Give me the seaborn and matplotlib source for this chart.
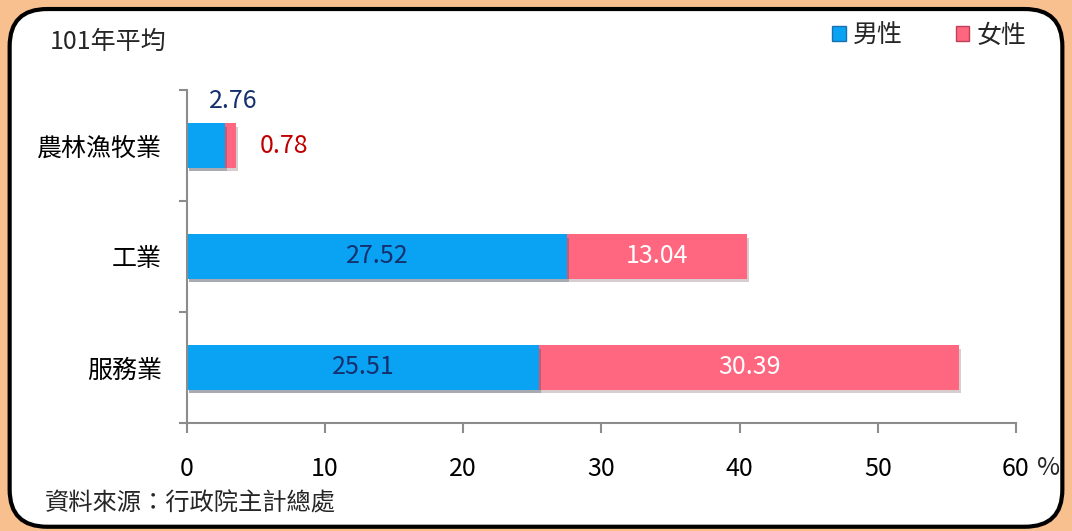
import matplotlib
matplotlib.use("Agg")
import matplotlib.pyplot as plt
import matplotlib.patheffects as pe
from matplotlib.patches import FancyBboxPatch, Patch
import seaborn as sns
import pandas as pd

# ----------------------------
# Data (101年平均, %)
# ----------------------------
categories = ['農林漁牧業', '工業', '服務業']
male = [2.76, 27.52, 25.51]
female = [0.78, 13.04, 30.39]
x_ticks = [0, 10, 20, 30, 40, 50, 60]

blue = '#0AA2F2'
pink = '#FF6680'
navy = '#14306E'
red = '#C00000'

df = pd.DataFrame({'cat': categories, 'male': male, 'female': female})
df['total'] = df['male'] + df['female']

sns.set_style("white")
plt.rcParams['font.family'] = ['Noto Sans CJK TC', 'DejaVu Sans']

fig = plt.figure(figsize=(10.72, 5.31), dpi=100)
fig.patch.set_facecolor('#F9C08F')

# white rounded panel
panel = FancyBboxPatch((0.009, 0.008), 0.982, 0.975, transform=fig.transFigure,
                       boxstyle="round,pad=0,rounding_size=0.035", mutation_aspect=2.0,
                       facecolor='white', edgecolor='black', linewidth=3, zorder=0)
fig.patches.append(panel)

ax = fig.add_axes([0.1744, 0.2034, 0.7733, 0.6271])
ax.set_facecolor('none')
ax.set_zorder(2)

shadow = [pe.SimplePatchShadow(offset=(1.5, -2.5), alpha=0.22), pe.Normal()]

# stacked bars: total (pink) first, then male (blue) on top
sns.barplot(data=df, x='total', y='cat', color=pink, width=0.4, saturation=1, ax=ax)
sns.barplot(data=df, x='male', y='cat', color=blue, width=0.4, saturation=1, ax=ax)
for p in ax.patches:
    p.set_path_effects(shadow)
    p.set_edgecolor('none')

fs = 18

# value labels
for i, r in df.iterrows():
    if r['total'] > 10:
        ax.text(r['male'] / 2, i, f"{r['male']:.2f}", ha='center', va='center',
                fontsize=fs, color=navy)
        ax.text(r['male'] + r['female'] / 2, i, f"{r['female']:.2f}", ha='center',
                va='center', fontsize=fs, color='white')
    else:
        ax.annotate(f"{r['male']:.2f}", xy=(r['total'], i), xytext=(-2, 32),
                    textcoords='offset points', ha='center', va='center',
                    fontsize=fs, color=navy)
        ax.annotate(f"{r['female']:.2f}", xy=(r['total'], i), xytext=(35, 0),
                    textcoords='offset points', ha='center', va='center',
                    fontsize=fs, color=red)

ax.set_xlim(0, 60)
ax.set_ylim(2.5, -0.5)
ax.set_xticks(x_ticks)
ax.set_xticklabels([str(t) for t in x_ticks])
ax.set_yticks([-0.5, 0.5, 1.5, 2.5], minor=True)
ax.set_xlabel('')
ax.set_ylabel('')

for s in ['top', 'right']:
    ax.spines[s].set_visible(False)
for s in ['left', 'bottom']:
    ax.spines[s].set_color('#8C8C8C')
    ax.spines[s].set_linewidth(1.5)

ax.tick_params(axis='x', which='major', length=7, width=1.5, color='#8C8C8C',
               direction='out', pad=17, labelsize=fs, labelcolor='black', bottom=True)
ax.tick_params(axis='y', which='major', length=0, pad=18, labelsize=fs, labelcolor='black')
ax.tick_params(axis='y', which='minor', length=6, width=1.5, color='#8C8C8C',
               direction='out', left=True)
ax.spines['left'].set_bounds(-0.5, 2.5)

fig.text(0.989, 0.119, '%', fontsize=fs, ha='right', va='center')
fig.text(0.046, 0.921, '101年平均', fontsize=fs, ha='left', va='center')
fig.text(0.042, 0.052, '資料來源：行政院主計總處', fontsize=17.5, ha='left', va='center')

handles = [Patch(facecolor=blue, edgecolor='#1A6FB0', label='男性'),
           Patch(facecolor=pink, edgecolor='#C0405A', label='女性')]
fig.legend(handles=handles, loc='center right', bbox_to_anchor=(0.979, 0.933), ncol=2,
           frameon=False, fontsize=fs, handlelength=0.55, handleheight=0.55,
           handletextpad=0.3, columnspacing=2.1)

fig.savefig('out.png', dpi=100, facecolor=fig.get_facecolor())
